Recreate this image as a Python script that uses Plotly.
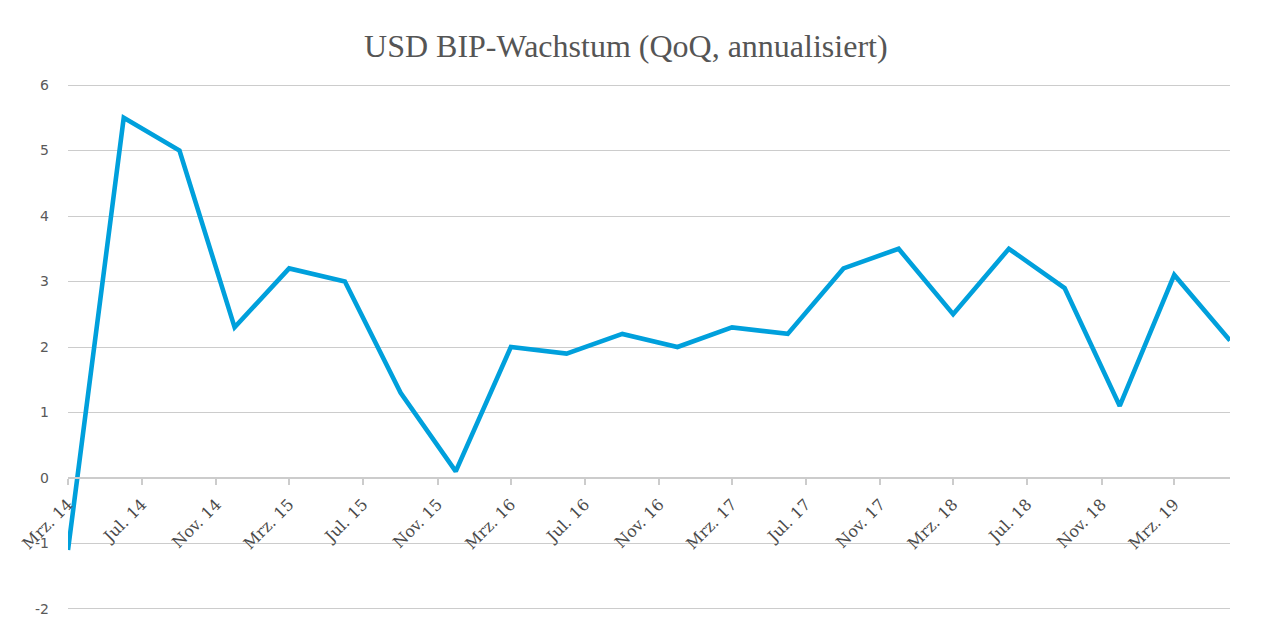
import plotly.graph_objects as go

dates = ["2014-03-01", "2014-06-01", "2014-09-01", "2014-12-01",
         "2015-03-01", "2015-06-01", "2015-09-01", "2015-12-01",
         "2016-03-01", "2016-06-01", "2016-09-01", "2016-12-01",
         "2017-03-01", "2017-06-01", "2017-09-01", "2017-12-01",
         "2018-03-01", "2018-06-01", "2018-09-01", "2018-12-01",
         "2019-03-01", "2019-06-01"]
growth = [-1.1, 5.5, 5.0, 2.3,
          3.2, 3.0, 1.3, 0.1,
          2.0, 1.9, 2.2, 2.0,
          2.3, 2.2, 3.2, 3.5,
          2.5, 3.5, 2.9, 1.1,
          3.1, 2.1]

tick_dates = ["2014-03-01", "2014-07-01", "2014-11-01", "2015-03-01", "2015-07-01",
              "2015-11-01", "2016-03-01", "2016-07-01", "2016-11-01", "2017-03-01",
              "2017-07-01", "2017-11-01", "2018-03-01", "2018-07-01", "2018-11-01",
              "2019-03-01"]
tick_labels = ["Mrz. 14", "Jul. 14", "Nov. 14", "Mrz. 15", "Jul. 15", "Nov. 15",
               "Mrz. 16", "Jul. 16", "Nov. 16", "Mrz. 17", "Jul. 17", "Nov. 17",
               "Mrz. 18", "Jul. 18", "Nov. 18", "Mrz. 19"]
y_ticks = [-2, -1, 0, 1, 2, 3, 4, 5, 6]
y_labels = ["-2", "-1", "0", "1", "2", "3", "4", "5", "6"]

fig = go.Figure()
fig.add_trace(go.Scatter(x=dates, y=growth, mode="lines",
                         line=dict(color="#00A0DC", width=4.6), showlegend=False))

fig.update_layout(
    width=1272, height=634,
    margin=dict(l=68, r=42, t=82, b=22),
    paper_bgcolor="white", plot_bgcolor="white",
    title=dict(text="USD BIP-Wachstum (QoQ, annualisiert)", x=0.492, xanchor="center",
               y=0.928, yanchor="middle",
               font=dict(family="Liberation Serif", size=32, color="#555555")),
    xaxis=dict(type="date", range=["2014-03-01", "2019-06-01"],
               tickvals=tick_dates, ticktext=tick_labels, tickangle=-45,
               anchor="free", position=(2.046 / 8.092),
               showline=True, linecolor="#cccccc", linewidth=1.5,
               ticks="outside", ticklen=6, tickcolor="#cccccc", tickwidth=1.5,
               ticklabelstandoff=4,
               showgrid=False, zeroline=False,
               tickfont=dict(family="DejaVu Serif", size=16, color="#4a4a4a")),
    yaxis=dict(range=[-2.046, 6.046], tickvals=y_ticks, ticktext=y_labels, showgrid=True,
               gridcolor="#cccccc", gridwidth=1.2, zeroline=False,
               showline=False, ticks="", ticklabelstandoff=18,
               tickfont=dict(family="DejaVu Sans", size=14, color="#595959")),
)

fig.write_html("out.html")
